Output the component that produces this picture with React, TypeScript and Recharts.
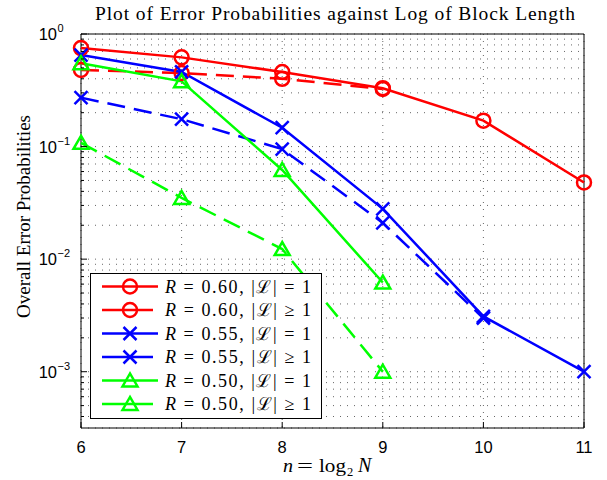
import { CartesianGrid, Line, LineChart, ReferenceArea, XAxis, YAxis } from "recharts"

// n = log2 N
const blockLogs = [6, 7, 8, 9, 10, 11]

const r60Single = [0.75, 0.62, 0.46, 0.33, 0.17, 0.048]
const r60Multi = [0.48, 0.45, 0.4, 0.325, null, null]
const r55Single = [0.65, 0.46, 0.147, 0.028, 0.0031, 0.001]
const r55Multi = [0.272, 0.175, 0.095, 0.021, 0.003, null]
const r50Single = [0.55, 0.38, 0.062, 0.0062, null, null]
const r50Multi = [0.108, 0.035, 0.0123, 0.001, null, null]

const xTicks = [6, 7, 8, 9, 10, 11]
const decades = [-4, -3, -2, -1, 0]
const minorSteps = [1, 2, 3, 4, 5, 6, 7, 8, 9]
const yMin = Math.pow(10, -3.5)
const yMax = 1

const yTicks: number[] = []
decades.forEach((d) => {
  minorSteps.forEach((m) => {
    const v = m * Math.pow(10, d)
    if (v >= yMin - 1e-12 && v <= yMax + 1e-12) yTicks.push(v)
  })
})

type Shape = "circle" | "cross" | "triangle"

const series: { key: string; label: string; rate: string; op: string; color: string; dashed: boolean; shape: Shape; values: (number | null)[] }[] = [
  { key: "r60a", label: "R = 0.60, |L| = 1", rate: "0.60", op: "=", color: "#ff0000", dashed: false, shape: "circle", values: r60Single },
  { key: "r60b", label: "R = 0.60, |L| >= 1", rate: "0.60", op: "≥", color: "#ff0000", dashed: true, shape: "circle", values: r60Multi },
  { key: "r55a", label: "R = 0.55, |L| = 1", rate: "0.55", op: "=", color: "#0000ff", dashed: false, shape: "cross", values: r55Single },
  { key: "r55b", label: "R = 0.55, |L| >= 1", rate: "0.55", op: "≥", color: "#0000ff", dashed: true, shape: "cross", values: r55Multi },
  { key: "r50a", label: "R = 0.50, |L| = 1", rate: "0.50", op: "=", color: "#00ff00", dashed: false, shape: "triangle", values: r50Single },
  { key: "r50b", label: "R = 0.50, |L| >= 1", rate: "0.50", op: "≥", color: "#00ff00", dashed: true, shape: "triangle", values: r50Multi },
]

const rows = blockLogs.map((n, i) => {
  const row: Record<string, number | null> = { n }
  series.forEach((s) => {
    row[s.key] = s.values[i]
  })
  return row
})

const DASH = "18 9"
const SERIF = "'Liberation Serif', 'DejaVu Serif', serif"
const SANS = "'Liberation Sans', Arial, sans-serif"

function MarkerShape({ cx, cy, shape, color }: { cx: number; cy: number; shape: Shape; color: string }) {
  if (shape === "circle") {
    return <circle cx={cx} cy={cy} r={7} fill="none" stroke={color} strokeWidth={2.5} />
  }
  if (shape === "cross") {
    const s = 6.5
    return (
      <g stroke={color} strokeWidth={2.5}>
        <line x1={cx - s} y1={cy - s} x2={cx + s} y2={cy + s} />
        <line x1={cx - s} y1={cy + s} x2={cx + s} y2={cy - s} />
      </g>
    )
  }
  return (
    <polygon
      points={`${cx},${cy - 7} ${cx - 7.5},${cy + 6} ${cx + 7.5},${cy + 6}`}
      fill="none"
      stroke={color}
      strokeWidth={2.5}
      strokeLinejoin="miter"
    />
  )
}

const isDecade = (v: number) => Math.abs(Math.log10(v) - Math.round(Math.log10(v))) < 1e-9

function LeftTick(props: any) {
  const { x, y, payload } = props
  const v = payload.value
  const major = isDecade(v)
  return (
    <g>
      <line x1={x} y1={y} x2={x + (major ? 6 : 3)} y2={y} stroke="#000" strokeWidth={1} />
      {major && (
        <g fontFamily={SANS} fill="#000">
          <text x={x - 24} y={y + 6} fontSize={16.5} textAnchor="end">
            10
          </text>
          <text x={x - 23.5} y={y - 2} fontSize={11} textAnchor="start">
            {String(Math.round(Math.log10(v))).replace("-", "\u2212")}
          </text>
        </g>
      )}
    </g>
  )
}

function RightTick(props: any) {
  const { x, y, payload } = props
  const major = isDecade(payload.value)
  return <line x1={x} y1={y} x2={x - (major ? 6 : 3)} y2={y} stroke="#000" strokeWidth={1} />
}

function BottomTick(props: any) {
  const { x, y, payload } = props
  return (
    <g>
      <line x1={x} y1={y} x2={x} y2={y - 6} stroke="#000" strokeWidth={1} />
      <text x={x} y={y + 25} fontSize={16.5} fontFamily={SANS} textAnchor="middle" fill="#000">
        {payload.value}
      </text>
    </g>
  )
}

function TopTick(props: any) {
  const { x, y } = props
  return <line x1={x} y1={y} x2={x} y2={y + 6} stroke="#000" strokeWidth={1} />
}

function Legend() {
  const rowH = 23.5
  return (
    <svg width={232} height={146} style={{ position: "absolute", left: 90, top: 273 }}>
      <rect x={0.5} y={0.5} width={231} height={145} fill="#fff" stroke="#000" strokeWidth={1} />
      {series.map((s, i) => {
        const cy = 13.5 + i * rowH
        return (
          <g key={s.key}>
            <line x1={12} y1={cy} x2={s.dashed ? 63 : 68} y2={cy} stroke={s.color} strokeWidth={2.5} />
            <MarkerShape cx={40} cy={cy} shape={s.shape} color={s.color} />
            <text
              x={75}
              y={cy + 6}
              fontSize={18}
              fontFamily={SERIF}
              fill="#000"
              textLength={146}
              lengthAdjust="spacing"
            >
              <tspan fontStyle="italic">R</tspan> = {s.rate}, |ℒ| {s.op} 1
            </text>
          </g>
        )
      })}
    </svg>
  )
}

export default function App() {
  return (
    <div style={{ position: "absolute", left: 0, top: 0, width: 607, height: 480, background: "#fff" }}>
      <LineChart width={607} height={480} data={rows} margin={{ top: 34, right: 23, bottom: 0, left: 0 }}>
        <CartesianGrid stroke="#666" strokeDasharray="1 6" strokeWidth={1} />
        <XAxis
          dataKey="n"
          type="number"
          domain={[6, 11]}
          ticks={xTicks}
          height={52}
          tickSize={0}
          tickMargin={0}
          tickLine={false}
          axisLine={false}
          tick={<BottomTick />}
          interval={0}
        />
        <XAxis
          xAxisId="top"
          orientation="top"
          dataKey="n"
          type="number"
          domain={[6, 11]}
          ticks={xTicks}
          height={0}
          tickSize={0}
          tickMargin={0}
          tickLine={false}
          axisLine={false}
          tick={<TopTick />}
          interval={0}
        />
        <YAxis
          scale="log"
          type="number"
          domain={[yMin, yMax]}
          ticks={yTicks}
          allowDataOverflow
          width={81}
          tickSize={0}
          tickMargin={0}
          tickLine={false}
          axisLine={false}
          tick={<LeftTick />}
          interval={0}
        />
        <YAxis
          yAxisId="right"
          orientation="right"
          scale="log"
          type="number"
          domain={[yMin, yMax]}
          ticks={yTicks}
          allowDataOverflow
          width={0}
          tickSize={0}
          tickMargin={0}
          tickLine={false}
          axisLine={false}
          tick={<RightTick />}
          interval={0}
        />
        <ReferenceArea x1={6} x2={11} y1={yMin} y2={yMax} fill="none" stroke="#000" strokeWidth={1} fillOpacity={0} />
        {series.map((s) => (
          <Line
            key={s.key}
            dataKey={s.key}
            name={s.label}
            stroke={s.color}
            strokeWidth={2.5}
            strokeDasharray={s.dashed ? DASH : undefined}
            type="linear"
            isAnimationActive={false}
            connectNulls={false}
            activeDot={false}
            dot={(p: any) =>
              p.value == null || p.cx == null || p.cy == null ? (
                <g key={`${s.key}-${p.index}`} />
              ) : (
                <g key={`${s.key}-${p.index}`}>
                  <MarkerShape cx={p.cx} cy={p.cy} shape={s.shape} color={s.color} />
                </g>
              )
            }
          />
        ))}
      </LineChart>
      <svg width={607} height={480} style={{ position: "absolute", left: 0, top: 0, pointerEvents: "none" }}>
        <text x={95} y={20} fontSize={19.5} fontFamily={SERIF} textLength={480} lengthAdjust="spacing" fill="#000">
          Plot of Error Probabilities against Log of Block Length
        </text>
        <text
          x={0}
          y={0}
          transform="translate(30 318) rotate(-90)"
          fontSize={19}
          fontFamily={SERIF}
          textLength={203}
          lengthAdjust="spacing"
          fill="#000"
        >
          Overall Error Probabilities
        </text>
        <g fontSize={18.5} fontFamily={SERIF} fill="#000">
          <text x={283} y={472} fontStyle="italic" textLength={10} lengthAdjust="spacingAndGlyphs">
            n
          </text>
          <text x={297} y={472} textLength={16} lengthAdjust="spacingAndGlyphs">
            =
          </text>
          <text x={319} y={472} textLength={27} lengthAdjust="spacingAndGlyphs">
            log
          </text>
          <text x={347} y={476} fontSize={12.5}>
            2
          </text>
          <text x={358} y={472} fontStyle="italic" fontSize={20}>
            N
          </text>
        </g>
      </svg>
      <Legend />
    </div>
  )
}
